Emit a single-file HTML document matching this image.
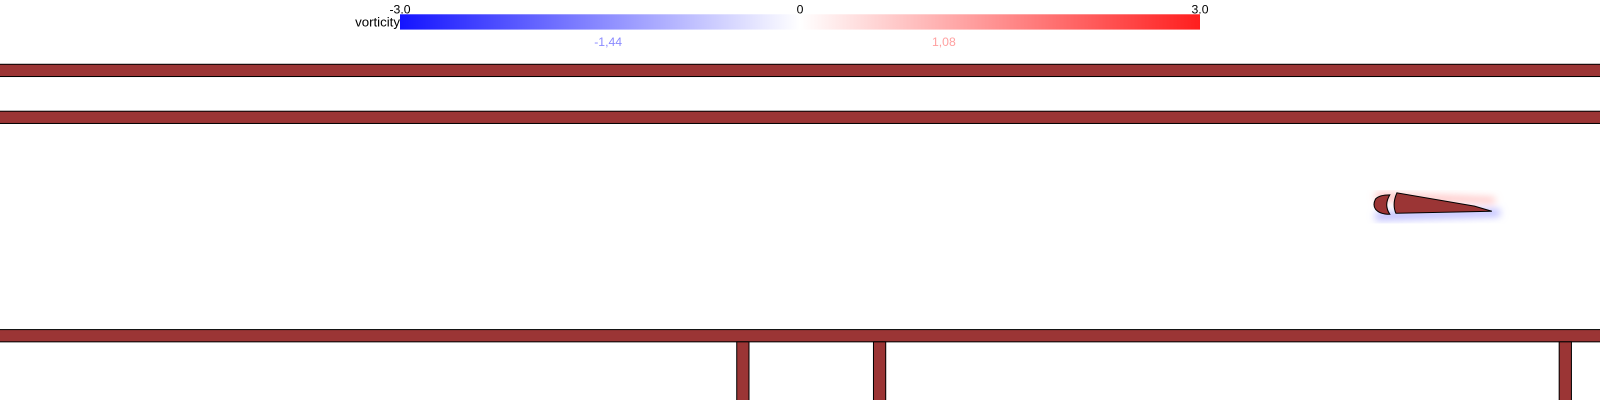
<!DOCTYPE html>
<html><head><meta charset="utf-8"><style>
body{margin:0;background:#fff;}
svg{display:block;font-family:"Liberation Sans",sans-serif;}
</style></head><body>
<svg width="1600" height="400" viewBox="0 0 1568 392" preserveAspectRatio="none">
<defs>
<linearGradient id="cb" x1="0" x2="1">
<stop offset="0" stop-color="#1414ff"/><stop offset="0.5" stop-color="#ffffff"/><stop offset="1" stop-color="#ff1e1e"/>
</linearGradient>
<filter id="bl"><feGaussianBlur stdDeviation="4"/></filter>
</defs>
<rect x="392" y="14" width="784" height="15" fill="url(#cb)"/>
<g id="ticks" font-size="12"></g>
<text x="392" y="26" font-size="13" text-anchor="end">vorticity</text>
<text x="596" y="45" font-size="12" fill="#8a8aff" text-anchor="middle">-1,44</text>
<text x="925" y="45" font-size="12" fill="#ffa0a0" text-anchor="middle">1,08</text>
<g fill="#9b3535" stroke="#000" stroke-width="1">
<rect x="-2" y="63" width="1604" height="12"/>
<rect x="-2" y="109" width="1604" height="12"/>
<rect x="-2" y="323" width="1604" height="12"/>
<rect x="722" y="335" width="12" height="70"/>
<rect x="856" y="335" width="12" height="70"/>
<rect x="1528" y="335" width="12" height="70"/>
</g>
<g filter="url(#bl)">
<path d="M1348 189 L1465 194 L1465 199 L1348 196Z" fill="#ff9a9a" opacity="0.7"/>
<path d="M1348 208 L1470 205 L1470 212 L1348 216Z" fill="#9a9aff" opacity="0.7"/>
</g>
<g fill="#9b3535" stroke="#000" stroke-width="1">
<path d="M1362 191 Q1352 191 1348 195 Q1345 201 1348 205 Q1352 210 1362 210 Q1356 201 1362 191Z"/>
<path d="M1369 189 Q1364 200 1368 209 L1462 207 L1445 202 Z"/>
</g>
</svg>
<script>
const tickValues=[-3,0,3];
const tickLabels=["-3.0","0","3.0"];
const g=document.getElementById('ticks');
tickValues.forEach((v,i)=>{
 const t=document.createElementNS('http://www.w3.org/2000/svg','text');
 
 
 t.setAttribute('x',392+(v+3)/6*784);
 t.setAttribute('y',13);
 t.setAttribute('text-anchor','middle');
 t.textContent=tickLabels[i];
 g.appendChild(t);
});
</script>
</body></html>
